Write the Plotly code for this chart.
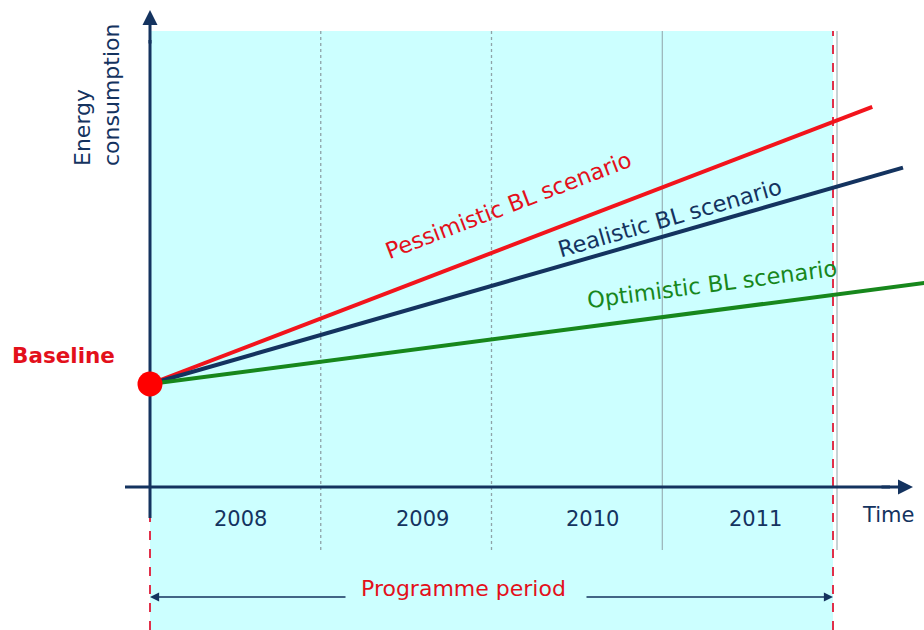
import math
import plotly.graph_objects as go

# ---- data -------------------------------------------------------------
years = [2008, 2009, 2010, 2011]
year_labels = ["2008", "2009", "2010", "2011"]
programme_end = 2012

baseline_year = 2008
baseline_value = 100

scenario_names = ["Pessimistic BL scenario", "Realistic BL scenario", "Optimistic BL scenario"]
scenario_end_year = [2012.23, 2012.41, 2012.6]
scenario_end_value = [369, 310, 199.5]
scenario_label_year = [2010.10, 2011.04, 2011.29]

# ---- styling ----------------------------------------------------------
NAVY = "#14335F"
RED_LINE = "#F2141C"
RED_TEXT = "#E3101B"
GREEN = "#17871C"
CYAN = "#CCFFFF"
GRID = "#8FA3A8"
FONT = "DejaVu Sans"
scenario_colors = [RED_LINE, NAVY, GREEN]
scenario_text_colors = [RED_TEXT, NAVY, GREEN]
label_lift = [41, 17, 27]

W, H = 924, 630
# screen scale: where the origin sits and how many pixels one unit spans
X0_PX, PX_PER_YEAR = 150, 170.75
Y0_PX, PX_PER_UNIT = 487, 1.03
x_range = [baseline_year - X0_PX / PX_PER_YEAR, baseline_year + (W - X0_PX) / PX_PER_YEAR]
y_range = [(Y0_PX - H) / PX_PER_UNIT, Y0_PX / PX_PER_UNIT]


def xpx(p):
    return baseline_year + (p - X0_PX) / PX_PER_YEAR


def ypx(p):
    return (Y0_PX - p) / PX_PER_UNIT


def paper_y(v):
    return (v - y_range[0]) / (y_range[1] - y_range[0])


fig = go.Figure()

# scenario lines from the baseline point
for name, ey, ev, col in zip(scenario_names, scenario_end_year, scenario_end_value, scenario_colors):
    fig.add_trace(go.Scatter(
        x=[baseline_year, ey], y=[baseline_value, ev], mode="lines",
        line=dict(color=col, width=4), name=name, hoverinfo="skip"))

# baseline marker
fig.add_trace(go.Scatter(
    x=[baseline_year], y=[baseline_value], mode="markers",
    marker=dict(color="#FF0000", size=25, line=dict(width=0)),
    name="Baseline", hoverinfo="skip"))

shapes = []
top_val = ypx(31)
# programme period background
shapes.append(dict(type="rect", xref="x", yref="paper", x0=years[0], x1=programme_end,
                   y0=0, y1=paper_y(top_val),
                   fillcolor=CYAN, line=dict(width=0), layer="below"))
# year dividers
div_bottom = ypx(550)
for i, yr in enumerate(years[1:] + [programme_end]):
    xx = yr if yr != programme_end else xpx(837)
    dash = "dot" if i < 2 else "solid"
    shapes.append(dict(type="line", x0=xx, x1=xx, y0=div_bottom, y1=top_val,
                       line=dict(color=GRID, width=1.3 if i < 2 else 1, dash=dash), layer="below"))
# red dashed period bounds
shapes.append(dict(type="line", xref="x", yref="paper", x0=years[0], x1=years[0],
                   y0=0, y1=paper_y(ypx(518)),
                   line=dict(color="#E0304A", width=2, dash="dash"), layer="below"))
shapes.append(dict(type="line", xref="x", yref="paper", x0=programme_end, x1=programme_end,
                   y0=0, y1=paper_y(top_val),
                   line=dict(color="#E0304A", width=2, dash="dash"), layer="below"))
# axes
shapes.append(dict(type="line", x0=years[0], x1=years[0], y0=ypx(518), y1=ypx(40),
                   line=dict(color=NAVY, width=3), layer="below"))
shapes.append(dict(type="line", x0=xpx(125), x1=xpx(890), y0=0, y1=0,
                   line=dict(color=NAVY, width=3), layer="below"))

ann = []
# axis arrowheads
ann.append(dict(x=years[0], y=ypx(10), ax=years[0], ay=ypx(45), xref="x", yref="y",
                axref="x", ayref="y", showarrow=True, arrowhead=2, arrowsize=1,
                arrowwidth=3, arrowcolor=NAVY, text=""))
ann.append(dict(x=xpx(913), y=0, ax=xpx(880), ay=0, xref="x", yref="y",
                axref="x", ayref="y", showarrow=True, arrowhead=2, arrowsize=1,
                arrowwidth=3, arrowcolor=NAVY, text=""))
# programme period arrows
arrow_y = ypx(597)
ann.append(dict(x=years[0], y=arrow_y, ax=xpx(347), ay=arrow_y, xref="x", yref="y",
                axref="x", ayref="y", showarrow=True, arrowhead=2, arrowsize=1.4,
                arrowwidth=1.3, arrowcolor=NAVY, text=""))
ann.append(dict(x=programme_end, y=arrow_y, ax=xpx(585), ay=arrow_y, xref="x", yref="y",
                axref="x", ayref="y", showarrow=True, arrowhead=2, arrowsize=1.4,
                arrowwidth=1.3, arrowcolor=NAVY, text=""))
ann.append(dict(x=(years[0] + programme_end) / 2, y=arrow_y, xshift=-28, yshift=9,
                text="Programme period", showarrow=False,
                font=dict(family=FONT, size=22, color=RED_TEXT)))

# year labels
for yr, lab, sh in zip(years, year_labels, [5, 16, 16, 8]):
    ann.append(dict(x=yr + 0.5, y=ypx(519), xshift=sh, text=lab, showarrow=False,
                    font=dict(family=FONT, size=21, color=NAVY)))
ann.append(dict(x=xpx(888), y=ypx(515), text="Time", showarrow=False,
                font=dict(family=FONT, size=21, color=NAVY)))

# y axis title
ann.append(dict(x=xpx(97), y=ypx(95), text="Energy<br>consumption", showarrow=False,
                textangle=-90, align="left",
                font=dict(family=FONT, size=22, color=NAVY)))

# baseline label
ann.append(dict(x=baseline_year, y=baseline_value, xshift=-33, yshift=29, xanchor="right",
                text="<b>Baseline</b>", showarrow=False,
                font=dict(family=FONT, size=21.5, color=RED_TEXT)))

# scenario labels along each line
for name, ey, ev, lx, col, lift in zip(scenario_names, scenario_end_year, scenario_end_value,
                                       scenario_label_year, scenario_text_colors, label_lift):
    slope = (ev - baseline_value) / (ey - baseline_year)
    ly = baseline_value + slope * (lx - baseline_year)
    ang = math.degrees(math.atan(slope * PX_PER_UNIT / PX_PER_YEAR))
    ann.append(dict(x=lx, y=ly, yshift=lift, text=name, showarrow=False, textangle=-ang,
                    font=dict(family=FONT, size=22.5, color=col)))

fig.update_layout(
    width=W, height=H, autosize=False,
    margin=dict(l=0, r=0, t=0, b=0, pad=0),
    paper_bgcolor="white", plot_bgcolor="white",
    showlegend=False,
    xaxis=dict(range=x_range, visible=False, fixedrange=True),
    yaxis=dict(range=y_range, visible=False, fixedrange=True),
    shapes=shapes, annotations=ann,
)

fig.write_html("out.html")
